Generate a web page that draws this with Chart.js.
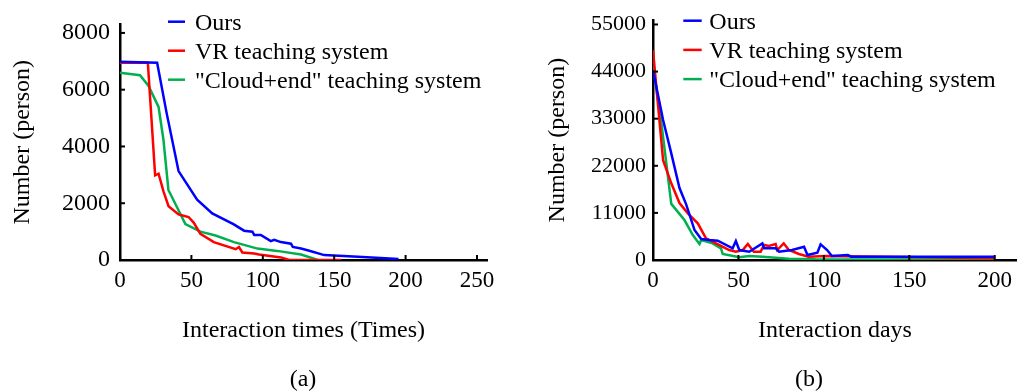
<!DOCTYPE html>
<html><head><meta charset="utf-8">
<script src="https://cdn.jsdelivr.net/npm/chart.js@4"></script>
<style>
html,body{margin:0;padding:0;background:#fff;}
#wrap{position:relative;width:1019px;height:392px;overflow:hidden;background:#fff;}
canvas{position:absolute;top:0;}
.cap{position:absolute;font-family:"Liberation Serif","Times New Roman",serif;font-size:24px;color:#000;transform:translate(-50%,-50%);white-space:nowrap;line-height:1;}
</style></head><body>
<div id="wrap">
<canvas id="ca" width="510" height="392" style="left:0"></canvas>
<canvas id="cb" width="509" height="392" style="left:510px"></canvas>
<div class="cap" style="left:303px;top:378px">(a)</div>
<div class="cap" style="left:809px;top:378px">(b)</div>
</div>
<script>
const seriesNames = ['Ours', 'VR teaching system', '"Cloud+end" teaching system'];
const seriesColors = ['#0000FF', '#FF0000', '#00B050'];

// ---- (a) Interaction times ----
const aOursX = [0, 26, 32.7, 41, 54, 64.6, 79.4, 86.9, 92.7, 94, 98.6, 105.6, 108, 112.7, 119.7, 121, 126.8, 133.8, 143, 166.7, 195];
const aOursY = [6980, 6946, 5165, 3133, 2124, 1641, 1263, 1033, 999, 884, 884, 665, 712, 631, 574, 459, 402, 310, 172, 115, 34];
const aVrX = [0, 19.5, 24.6, 27, 30.5, 34, 41, 48, 51.6, 56.3, 65.7, 81, 83.3, 85.7, 94, 97.4, 112.7, 118.5, 155];
const aVrY = [6946, 6946, 2985, 3041, 2410, 1894, 1608, 1515, 1320, 918, 631, 379, 459, 264, 229, 195, 92, 0, 0];
const aCloudX = [0, 14, 19.9, 27, 30.4, 33.9, 45.8, 56.3, 66.9, 79.8, 96.3, 110, 126.8, 138.5];
const aCloudY = [6600, 6508, 6140, 5394, 4247, 2468, 1262, 999, 861, 631, 402, 321, 195, 0];
const aXTicks = [0, 50, 100, 150, 200, 250];
const aYTicks = [0, 2000, 4000, 6000, 8000];

// ---- (b) Interaction days ----
const bOursX = [0, 5.9, 10.7, 15.5, 19.4, 24.3, 28.2, 33, 37.9, 46.6, 48.5, 50.5, 56.3, 64, 65, 71.8, 73.8, 81.4, 88.4, 90.4, 96.2, 98.1, 101.9, 104.7, 114, 116, 200];
const bOursY = [44300, 32700, 24900, 16800, 13000, 7000, 4900, 4670, 4510, 2720, 4430, 2330, 1940, 3890, 2720, 2720, 1940, 2330, 3110, 1170, 1710, 3660, 2330, 930, 1160, 780, 780];
const bVrX = [0, 5.9, 10.7, 15.5, 20.4, 26.2, 31, 36.9, 44.6, 48.5, 52.5, 55.5, 59, 63, 65, 67.8, 71.8, 72.7, 76.5, 79.5, 85.4, 91, 100.8, 200];
const bVrY = [49000, 23300, 17900, 13300, 10900, 8560, 5060, 3890, 2330, 1940, 2330, 3730, 1940, 1940, 3500, 3270, 3730, 2330, 3890, 2330, 1400, 780, 930, 400];
const bCloudX = [0, 4.9, 10.7, 18.4, 23.3, 27.2, 28.2, 34.9, 39.8, 40.8, 50.5, 56.3, 64, 79.5, 95, 200];
const bCloudY = [45500, 32000, 13100, 9330, 5830, 3730, 4670, 3890, 2720, 1400, 620, 930, 780, 300, 150, 100];
const bXTicks = [0, 50, 100, 150, 200];
const bYTicks = [0, 11000, 22000, 33000, 44000, 55000];

const FONT = '"Liberation Serif", "Times New Roman", serif';

function pts(xs, ys) { return xs.map((x, i) => ({ x: x, y: ys[i] })); }

function makeDatasets(list) {
  return list.map((p, i) => ({
    label: seriesNames[i],
    data: pts(p[0], p[1]),
    borderColor: seriesColors[i],
    backgroundColor: seriesColors[i],
    borderWidth: 2.5,
    pointRadius: 0,
    tension: 0,
    fill: false
  }));
}

const innerTicks = {
  id: 'innerTicks',
  afterDraw(chart) {
    const ctx = chart.ctx;
    const xs = chart.scales.x, ys = chart.scales.y;
    const ca = chart.chartArea;
    ctx.save();
    ctx.strokeStyle = '#000';
    ctx.lineWidth = 2;
    xs.ticks.forEach(t => {
      const px = xs.getPixelForValue(t.value);
      ctx.beginPath(); ctx.moveTo(px, ca.bottom); ctx.lineTo(px, ca.bottom - 5); ctx.stroke();
    });
    ys.ticks.forEach(t => {
      const py = ys.getPixelForValue(t.value);
      ctx.beginPath(); ctx.moveTo(ca.left, py); ctx.lineTo(ca.left + 5, py); ctx.stroke();
    });
    ctx.restore();
  }
};

const innerLegend = {
  id: 'innerLegend',
  afterDraw(chart, args, opts) {
    const ctx = chart.ctx;
    ctx.save();
    ctx.font = '24px ' + FONT;
    ctx.textBaseline = 'alphabetic';
    ctx.textAlign = 'left';
    chart.data.datasets.forEach((ds, i) => {
      const y = opts.y0 + i * opts.gap;
      ctx.strokeStyle = ds.borderColor;
      ctx.lineWidth = 2.5;
      ctx.beginPath(); ctx.moveTo(opts.x0, y); ctx.lineTo(opts.x1, y); ctx.stroke();
      ctx.fillStyle = '#000';
      ctx.fillText(ds.label, opts.tx, y + 7.8);
    });
    ctx.restore();
  }
};

function makeChart(id, datasets, cfg) {
  return new Chart(document.getElementById(id), {
    type: 'line',
    data: { datasets: datasets },
    plugins: [innerTicks, innerLegend],
    options: {
      responsive: false,
      animation: false,
      devicePixelRatio: 1,
      layout: { padding: cfg.padding },
      plugins: {
        legend: { display: false },
        tooltip: { enabled: false },
        innerLegend: cfg.legend
      },
      scales: {
        x: {
          type: 'linear',
          min: 0,
          max: cfg.xMax,
          afterBuildTicks: s => { s.ticks = cfg.xTicks.map(v => ({ value: v })); },
          afterFit: s => { s.height = 132; },
          ticks: { font: { family: FONT, size: 23 }, color: '#000', padding: 7, maxRotation: 0, autoSkip: false, callback: v => String(v) },
          grid: { display: false, drawTicks: false },
          border: { display: true, color: '#000', width: 2.5 },
          title: { display: true, text: cfg.xTitle, color: '#000', font: { family: FONT, size: 24 }, padding: { top: 0, bottom: 47 } }
        },
        y: {
          type: 'linear',
          min: 0,
          max: cfg.yMax,
          afterBuildTicks: s => { s.ticks = cfg.yTicks.map(v => ({ value: v })); },
          afterFit: s => { s.width = cfg.yWidth; },
          ticks: { font: { family: FONT, size: cfg.yTickSize }, color: '#000', padding: cfg.yPad, autoSkip: false, callback: v => String(v) },
          grid: { display: false, drawTicks: false },
          border: { display: true, color: '#000', width: 2.5 },
          title: { display: true, text: 'Number (person)', color: '#000', font: { family: FONT, size: 24 }, padding: { top: cfg.yTitlePad, bottom: 0 } }
        }
      }
    }
  });
}

makeChart('ca', makeDatasets([[aOursX, aOursY], [aVrX, aVrY], [aCloudX, aCloudY]]), {
  padding: { left: 0, top: 19, right: 23, bottom: 0 },
  xMax: 257, yMax: 8300, xTicks: aXTicks, yTicks: aYTicks,
  yWidth: 120, yPad: 10, yTitlePad: 8, yTickSize: 24,
  xTitle: 'Interaction times (Times)',
  legend: { x0: 168, x1: 185, tx: 195, y0: 21.7, gap: 29 }
});

makeChart('cb', makeDatasets([[bOursX, bOursY], [bVrX, bVrY], [bCloudX, bCloudY]]), {
  padding: { left: 0, top: 20, right: 0, bottom: 0 },
  xMax: 213, yMax: 56000, xTicks: bXTicks, yTicks: bYTicks,
  yWidth: 143, yPad: 7, yTitlePad: 33, yTickSize: 22,
  xTitle: 'Interaction days',
  legend: { x0: 173.3, x1: 191.7, tx: 199.3, y0: 20.7, gap: 29.2 }
});
</script>
</body></html>
